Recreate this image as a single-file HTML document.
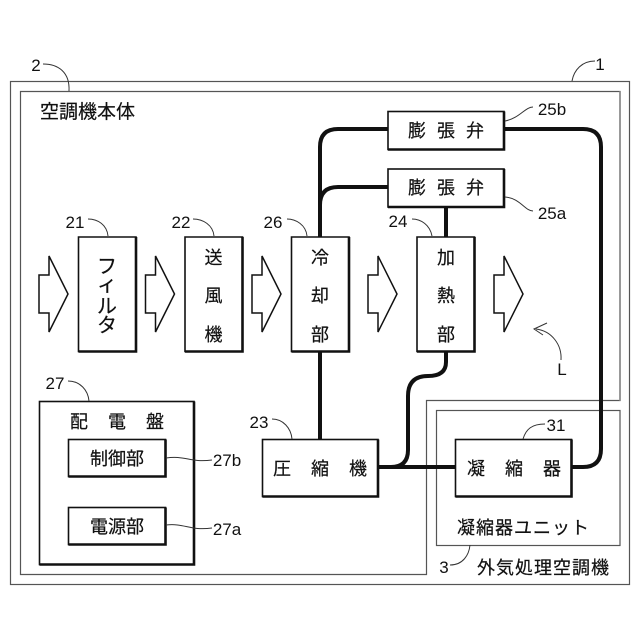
<!DOCTYPE html>
<html><head><meta charset="utf-8"><style>
html,body{margin:0;padding:0;background:#fff}
svg{display:block}
text{font-family:"Liberation Sans","Noto Sans CJK JP",sans-serif;fill:#111}
.c{text-anchor:middle}
.n{font-size:17px}
.j{font-size:18px;stroke:#111;stroke-width:.2}
</style></head><body>
<svg width="640" height="640" viewBox="0 0 640 640" xmlns="http://www.w3.org/2000/svg">
<rect width="640" height="640" fill="#fff"/>
<!-- frames -->
<g fill="none" stroke="#555" stroke-width="1.2">
<rect x="10.5" y="81.5" width="619" height="503"/>
<path d="M20.5 91.5H620V400.5H426.5V574.5H20.5Z"/>
<rect x="436.5" y="410.5" width="183.5" height="135"/>
</g>
<path d="M620 91.500V400.500" stroke="#999" stroke-width="2" fill="none"/>
<!-- pipes -->
<g fill="none" stroke="#111" stroke-width="4">
<path d="M388 129H338Q320 129 320 147V237"/>
<path d="M388 187H338Q320 187 320 205"/>
<path d="M504 129H583Q601 129 601 147V449Q601 467 583 467H572"/>
<path d="M446 207V237"/>
<path d="M320 352V439"/>
<path d="M446 352V362Q446 376 428 376Q408 376 408 396V450Q408 467 391 467"/>
<path d="M378 467H455"/>
</g>
<!-- boxes -->
<g fill="#fff" stroke="#111" stroke-width="1.6">
<path d="M78.5 237H136V351.5H78.5Z"/>
<path d="M185 237H242.5V351.5H185Z"/>
<path d="M291.5 237H349V351.5H291.5Z"/>
<path d="M417 237H474.5V351.5H417Z"/>
<rect x="388" y="111.500" width="116" height="38"/>
<rect x="388" y="169" width="116" height="38"/>
<rect x="39.500" y="401.500" width="154.500" height="163"/>
<rect x="68.500" y="439.500" width="97" height="37"/>
<rect x="68.500" y="507.500" width="97" height="37"/>
<rect x="262.500" y="439.500" width="115.500" height="57"/>
<rect x="455.500" y="439.500" width="116" height="57"/>
</g>
<!-- heavier bottom and right edges -->
<g fill="none" stroke="#111" stroke-width="2.6">
<path d="M136 237V351.500H78.500"/>
<path d="M242.500 237V351.500H185"/>
<path d="M349 237V351.500H291.500"/>
<path d="M474.500 237V351.500H417"/>
<path d="M504 111.500V149.500H388"/>
<path d="M504 169V207H388"/>
<path d="M194 401.500V564.500H39.500"/>
<path d="M165.500 439.500V476.500H68.500"/>
<path d="M165.500 507.500V544.500H68.500"/>
<path d="M378 439.500V496.500H262.500"/>
<path d="M571.500 439.500V496.500H455.500"/>
</g>
<!-- flow arrows -->
<g fill="#fff" stroke="#111" stroke-width="1.5" stroke-linejoin="miter">
<path d="M39 275H49V256L68 294L49 332V313H39Z"/>
<path d="M145.500 275H155.500V256L174.500 294L155.500 332V313H145.500Z"/>
<path d="M252 275H262V256L281 294L262 332V313H252Z"/>
<path d="M368 275H378V256L397 294L378 332V313H368Z"/>
<path d="M494 275H504V256L523 294L504 332V313H494Z"/>
</g>
<!-- leaders -->
<g fill="none" stroke="#333" stroke-width="1">
<path d="M43 64C58 64 70 72 69 91"/>
<path d="M88 219C98 219 107 225 108 236"/>
<path d="M193 219C203 219 213 225 214 236"/>
<path d="M287 219C296 219 306 225 307 236"/>
<path d="M412 219C421 219 430 225 432 236"/>
<path d="M572 81C574 70 582 61 595 61"/>
<path d="M505 121C520 118 525 107 533 107"/>
<path d="M505 197C520 198 525 211 533 211"/>
<path d="M68 381C80 381 88 390 89 401"/>
<path d="M272 419C283 419 291 428 292 439"/>
<path d="M166 458C185 455 190 463 212 460"/>
<path d="M166 525C185 523 190 531 212 528"/>
<path d="M523 439C526 429 532 424 545 424"/>
<path d="M470 545C469 555 463 565 450 565"/>
<path d="M561 360C562 345 552 331 536 329"/>
<path d="M547 323L534 329L543 335"/>
</g>
<!-- labels -->
<text x="36" y="71" class="c n">2</text>
<text x="600" y="70" class="c n">1</text>
<text x="75" y="228" class="c n">21</text>
<text x="181" y="228" class="c n">22</text>
<text x="273" y="228" class="c n">26</text>
<text x="398" y="227" class="c n">24</text>
<text x="552" y="115" class="c n">25b</text>
<text x="552" y="219" class="c n">25a</text>
<text x="55" y="389" class="c n">27</text>
<text x="259" y="428" class="c n">23</text>
<text x="227" y="466" class="c n">27b</text>
<text x="227" y="535" class="c n">27a</text>
<text x="556" y="431" class="c n">31</text>
<text x="444" y="573" class="c n">3</text>
<text x="562" y="375" class="c n">L</text>

<text x="40" y="118" class="j" style="font-size:19px">空調機本体</text>
<text x="107" y="273" class="c j" style="font-size:20px">フ</text>
<text x="107" y="291" class="c j" style="font-size:20px">ィ</text>
<text x="107" y="313" class="c j" style="font-size:20px">ル</text>
<text x="107" y="332" class="c j" style="font-size:20px">タ</text>
<text x="213.500" y="264" class="c j">送</text>
<text x="213.500" y="302" class="c j">風</text>
<text x="213.500" y="341" class="c j">機</text>
<text x="320" y="264" class="c j">冷</text>
<text x="320" y="302" class="c j">却</text>
<text x="320" y="341" class="c j">部</text>
<text x="446" y="264" class="c j">加</text>
<text x="446" y="302" class="c j">熱</text>
<text x="446" y="341" class="c j">部</text>
<text x="417" y="137" class="c j">膨</text><text x="446" y="137" class="c j">張</text><text x="475" y="137" class="c j">弁</text>
<text x="417" y="194" class="c j">膨</text><text x="446" y="194" class="c j">張</text><text x="475" y="194" class="c j">弁</text>
<text x="79" y="428" class="c j">配</text><text x="117" y="428" class="c j">電</text><text x="155" y="428" class="c j">盤</text>
<text x="117" y="465" class="c j">制御部</text>
<text x="117" y="533" class="c j">電源部</text>
<text x="282" y="475" class="c j">圧</text><text x="320" y="475" class="c j">縮</text><text x="358" y="475" class="c j">機</text>
<text x="476" y="475" class="c j">凝</text><text x="514" y="475" class="c j">縮</text><text x="552" y="475" class="c j">器</text>
<text x="457" y="534" class="j" textLength="132">凝縮器ユニット</text>
<text x="477" y="574" class="j" textLength="132">外気処理空調機</text>
</svg>
</body></html>
